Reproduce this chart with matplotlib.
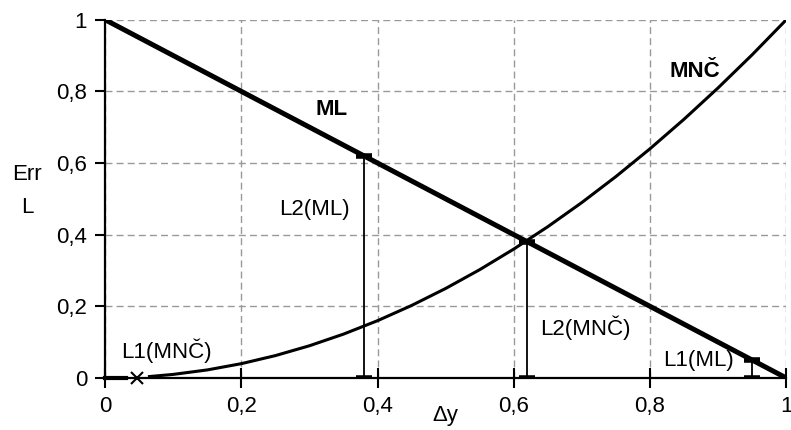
import matplotlib.pyplot as plt
from matplotlib.ticker import FuncFormatter

plt.rcParams['font.family'] = ['Liberation Sans', 'DejaVu Sans']

# curve ML (thick, falling)
ml_x = [0, 0.05, 0.1, 0.15, 0.2, 0.25, 0.3, 0.35, 0.4, 0.45, 0.5, 0.55, 0.6,
        0.65, 0.7, 0.75, 0.8, 0.85, 0.9, 0.95, 1.0]
ml_y = [1.0, 0.95, 0.9, 0.85, 0.8, 0.75, 0.7, 0.65, 0.6, 0.55, 0.5, 0.45, 0.4,
        0.35, 0.3, 0.25, 0.2, 0.15, 0.1, 0.05, 0.0]

# curve MNC (thin, rising)
mnc_x = [0.065, 0.1, 0.15, 0.2, 0.25, 0.3, 0.35, 0.4, 0.45, 0.5, 0.55, 0.6,
         0.65, 0.7, 0.75, 0.8, 0.85, 0.9, 0.95, 1.0]
mnc_y = [0.004, 0.01, 0.0225, 0.04, 0.0625, 0.09, 0.1225, 0.16, 0.2025, 0.25,
         0.3025, 0.36, 0.4225, 0.49, 0.5625, 0.64, 0.7225, 0.81, 0.9025, 1.0]

# vertical loss markers: x, lower, upper
seg_x = [0.38, 0.62, 0.95]
seg_lo = [0, 0, 0]
seg_hi = [0.62, 0.38, 0.05]

# L1(MNC) segment on the axis and its end mark
l1_x = [0, 0.03]
l1_y = [0, 0]
l1_mark = 0.047

ticks = [0, 0.2, 0.4, 0.6, 0.8, 1]
fs = 16

fig = plt.figure(figsize=(7.91, 4.30), dpi=100)
ax = fig.add_axes([0.133, 0.121, 0.861, 0.833])

ax.grid(True, color="#999999", linestyle=(0, (5, 3)), linewidth=1.0)
ax.set_axisbelow(True)

ax.plot(ml_x, ml_y, color="black", linewidth=3.6, solid_capstyle="butt", zorder=4)
ax.plot(mnc_x, mnc_y, color="black", linewidth=2.2, zorder=4)

ax.vlines(seg_x, seg_lo, seg_hi, color="black", linewidth=1.3, zorder=3)
ax.plot(seg_x, seg_lo, linestyle="none", marker="_", markersize=11, mew=4,
        color="black", zorder=5)
ax.plot(seg_x, seg_hi, linestyle="none", marker="_", markersize=11, mew=4,
        color="black", zorder=5)

ax.plot(l1_x, l1_y, color="black", linewidth=3, zorder=5, clip_on=False)
ax.plot([l1_mark], [0], marker="x", markersize=9, mew=1.5, color="black",
        zorder=6, clip_on=False)

ax.set_xlim(0, 1)
ax.set_ylim(0, 1)
ax.set_xticks(ticks)
ax.set_yticks(ticks)
fmt = FuncFormatter(lambda v, p: ("%g" % v).replace(".", ","))
ax.xaxis.set_major_formatter(fmt)
ax.yaxis.set_major_formatter(fmt)
ax.tick_params(axis="x", direction="inout", length=14, width=1.5, labelsize=fs, pad=6)
ax.tick_params(axis="y", direction="out", length=7, width=1.5, labelsize=fs, pad=6)

for side in ["top", "right"]:
    ax.spines[side].set_visible(False)
for side in ["left", "bottom"]:
    ax.spines[side].set_linewidth(1.6)

ax.text(0.333, 0.75, "ML", fontsize=fs, fontweight="bold", ha="center", va="center")
ax.text(0.866, 0.855, "MNČ", fontsize=fs, fontweight="bold", ha="center", va="center")
ax.text(0.307, 0.47, "L2(ML)", fontsize=fs, ha="center", va="center")
ax.text(0.705, 0.14, "L2(MNČ)", fontsize=fs, ha="center", va="center")
ax.text(0.871, 0.05, "L1(ML)", fontsize=fs, ha="center", va="center")
ax.text(0.09, 0.075, "L1(MNČ)", fontsize=fs, ha="center", va="center")

fig.text(27 / 791, 1 - 174 / 430, "Err", fontsize=fs, ha="center", va="center")
fig.text(27 / 791, 1 - 207 / 430, "L", fontsize=fs, ha="center", va="center")
fig.text(445 / 791, 1 - 415 / 430, "Δy", fontsize=fs, ha="center", va="center")

fig.savefig("out.png", dpi=100)
